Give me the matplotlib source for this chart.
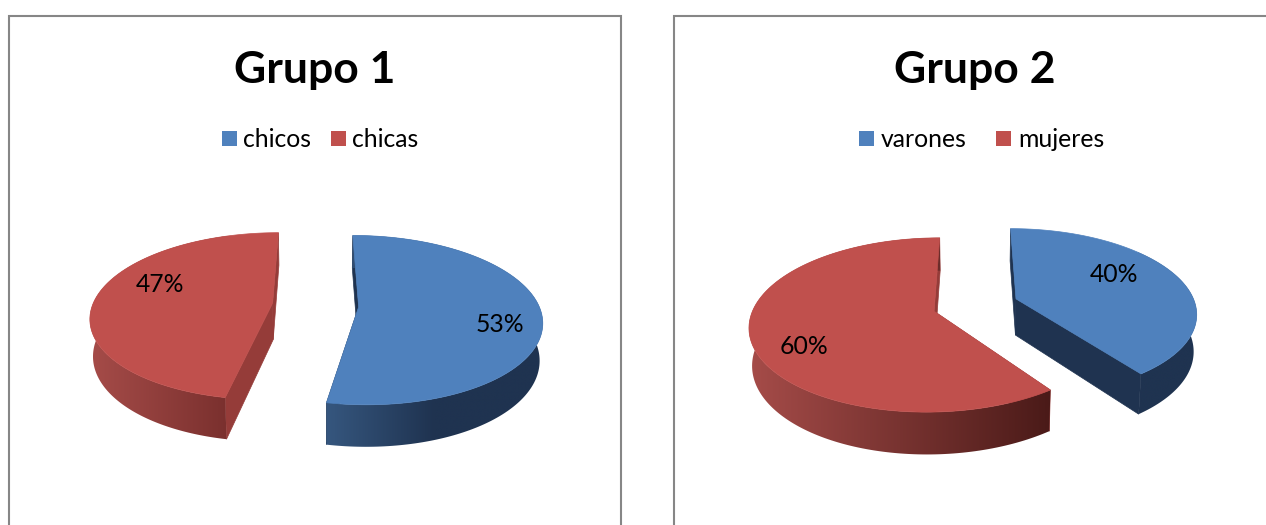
#!/usr/bin/python3
import matplotlib
matplotlib.use("Agg")
import matplotlib.pyplot as plt
import numpy as np
from matplotlib.colors import LinearSegmentedColormap
from matplotlib.patches import Polygon, Rectangle

titles = ["Grupo 1", "Grupo 2"]
labels1 = ["chicos", "chicas"]
labels2 = ["varones", "mujeres"]
values1 = [53, 47]
values2 = [40, 60]

BLUE = "#4f81bd"
RED = "#c0504d"
BLUE_SIDE = "#1f3350"
RED_SIDE = "#953c39"
K = 0.156   # perspective strength
TAPER = 0.014   # lower ring is a bit smaller than the top one
EXPLODE = 0.24
DEPTH = 37.0

plt.rcParams["font.family"] = ["Lato", "DejaVu Sans"]

fig = plt.figure(figsize=(12.66, 5.25), dpi=100)
ax = fig.add_axes([0, 0, 1, 1])
ax.axis("off")


def project(u, v, z, cx, cy, rx, ry):
    s = 1.0 / (1.0 + K * v) / (1.0 + TAPER * z)
    return cx + rx * u * s, cy - ry * v * s + DEPTH * z * s


def draw_slice(a0, a1, geom, top, side, wall_colors):
    # angles are clockwise from 12 o'clock, in degrees
    mid = np.radians((a0 + a1) / 2)
    du, dv = EXPLODE * np.sin(mid), EXPLODE * np.cos(mid)
    th = np.radians(np.linspace(a0, a1, 181))
    u = du + np.sin(th)
    v = dv + np.cos(th)

    # cut faces
    for i in (0, -1):
        xa, ya = project(du, dv, 0, *geom)
        xb, yb = project(u[i], v[i], 0, *geom)
        xc, yc = project(u[i], v[i], 1, *geom)
        xd, yd = project(du, dv, 1, *geom)
        ax.add_patch(Polygon([(xa, ya), (xb, yb), (xc, yc), (xd, yd)],
                             facecolor=side, edgecolor=side, lw=0.5, zorder=2))

    # outer wall, gradient image clipped to the wall outline
    x0, y0 = project(u, v, 0, *geom)
    x1, y1 = project(u, v, 1, *geom)
    front = v < dv + 0.35
    wall = Polygon(list(zip(x0, y0)) + list(zip(x1[::-1], y1[::-1])), transform=ax.transData,
                   facecolor="none", edgecolor="none")
    ax.add_patch(wall)
    cmap = LinearSegmentedColormap.from_list("wall", wall_colors)
    grad = np.linspace(0, 1, 256).reshape(1, -1)
    left = min(x0[front].min(), x1[front].min()) - 1
    right = max(x0[front].max(), x1[front].max()) + 1
    im = ax.imshow(grad, cmap=cmap, aspect="auto", zorder=3, interpolation="bilinear",
                   extent=[left, right, y1.max() + 2, y0.min() - 2])
    im.set_clip_path(wall)

    # top face
    xa, ya = project(du, dv, 0, *geom)
    pts = [(xa, ya)] + list(zip(x0, y0))
    ax.add_patch(Polygon(pts, facecolor=top, edgecolor=top, lw=0.5, zorder=4))


def draw_pie(values, geom, wall_blue, wall_red):
    a = np.cumsum([0] + values) * 360.0 / sum(values)
    draw_slice(a[0], a[1], geom, BLUE, BLUE_SIDE, wall_blue)
    draw_slice(a[1], a[2], geom, RED, RED_SIDE, wall_red)


def draw_frame(x0, x1):
    ax.plot([x0, x0, x1, x1], [525, 15.5, 15.5, 525], color="#868686", lw=1.5,
            solid_joinstyle="miter", zorder=1)


draw_frame(8.5, 621)
draw_frame(673.5, 1270)

draw_pie(values1, (315.5, 305, 180, 82), ["#36577f", "#1f3350", "#1f3350"], ["#a64c49", "#7a302e"])
draw_pie(values2, (975.5, 305, 179.5, 83), ["#1f3350", "#1f3350"], ["#a64c49", "#4a1a18"])

# titles
ax.text(315, 70, titles[0], fontsize=32, fontweight="bold", ha="center", va="center", color="black")
ax.text(975, 70, titles[1], fontsize=32, fontweight="bold", ha="center", va="center", color="black")

# legends
legend_pos = [(222, 243, BLUE, labels1[0]), (331, 352, RED, labels1[1]),
              (859, 881, BLUE, labels2[0]), (996, 1018, RED, labels2[1])]
for xs, xt, c, lab in legend_pos:
    ax.add_patch(Rectangle((xs, 131), 15, 15, facecolor=c, edgecolor="none"))
    ax.text(xt, 139.5, lab, fontsize=17.8, ha="left", va="center", color="black")

# percent labels
pct_pos = [(500, 323, values1[0]), (160, 283, values1[1]), (1114, 273, values2[0]), (804, 345, values2[1])]
for x, y, val in pct_pos:
    ax.text(x, y + 1.5, f"{val}%", fontsize=17.8, ha="center", va="center", color="black", zorder=6)

ax.set_xlim(0, 1266)
ax.set_ylim(525, 0)
fig.savefig("out.png", dpi=100)
